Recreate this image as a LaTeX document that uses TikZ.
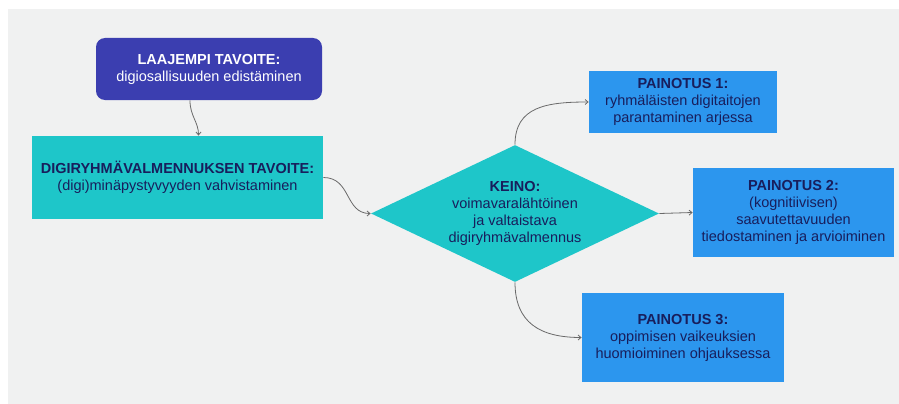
\documentclass[tikz,border=0pt]{standalone}
\usepackage{fontspec}
\setmainfont{Liberation Sans}
\usetikzlibrary{shapes.geometric,arrows.meta}

\definecolor{bgGray}{RGB}{240,241,241}
\definecolor{goalIndigo}{RGB}{59,62,176}
\definecolor{aimTeal}{RGB}{30,198,201}
\definecolor{focusBlue}{RGB}{44,150,238}
\definecolor{textNavy}{RGB}{24,30,92}
\definecolor{lineGray}{RGB}{105,105,105}

\tikzset{every picture/.style={line width=0.75pt}}
\tikzset{
box/.style={rectangle, inner sep=0pt, align=center, text=textNavy,
  font=\fontsize{14.5}{17}\selectfont},
link/.style={draw=lineGray, line width=0.8pt, -{Straight Barb[length=3pt,width=5pt]}}}

\begin{document}
\begin{tikzpicture}[x=1pt,y=1pt,yscale=-1,xscale=1]
\useasboundingbox (0,0) rectangle (899,404);

%Shape: Background
\fill [bgGray] (8,9) rectangle (899,404);

%Shape: Rounded Rectangle
\node [box, fill=goalIndigo, text=white, rounded corners=9pt,
  minimum width=226, minimum height=62] (laajempi) at (209,69)
  {\textbf{LAAJEMPI TAVOITE:}\\digiosallisuuden edistäminen};

%Shape: Rectangle
\node [box, fill=aimTeal, minimum width=291, minimum height=83] (tavoite) at (177.5,177.5)
  {\textbf{DIGIRYHMÄVALMENNUKSEN TAVOITE:}\\(digi)minäpystyvyyden vahvistaminen};

%Shape: Diamond
\node [box, diamond, shape aspect=2.1, fill=aimTeal, minimum width=288, minimum height=137] (keino) at (515,213.5)
  {\textbf{KEINO:}\\voimavaralähtöinen\\ja valtaistava\\digiryhmävalmennus};

%Shape: Rectangle
\node [box, fill=focusBlue, minimum width=188, minimum height=62] (painotus1) at (683,102)
  {\textbf{PAINOTUS 1:}\\ryhmäläisten digitaitojen\\parantaminen arjessa};

%Shape: Rectangle
\node [box, fill=focusBlue, minimum width=201, minimum height=89] (painotus2) at (793.5,212.5)
  {\textbf{PAINOTUS 2:}\\(kognitiivisen)\\saavutettavuuden\\tiedostaminen ja arvioiminen};

%Shape: Rectangle
\node [box, fill=focusBlue, minimum width=202, minimum height=89] (painotus3) at (683,337.5)
  {\textbf{PAINOTUS 3:}\\oppimisen vaikeuksien\\huomioiminen ohjauksessa};

%Curve Lines
\draw [link] ([xshift=-19pt]laajempi.south) .. controls +(0,16) and +(0,-14) .. ([xshift=21pt]tavoite.north);
\draw [link] (tavoite.east) .. controls +(28,0) and +(-26,0) .. (keino.west);
\draw [link] (keino.north) .. controls +(0,-38) and +(-42,0) .. (painotus1.west);
\draw [link] (keino.south) .. controls +(0,40) and +(-42,0) .. (painotus3.west);
%Straight Lines
\draw [link] (keino.east) -- (painotus2.west);
\end{tikzpicture}
\end{document}
